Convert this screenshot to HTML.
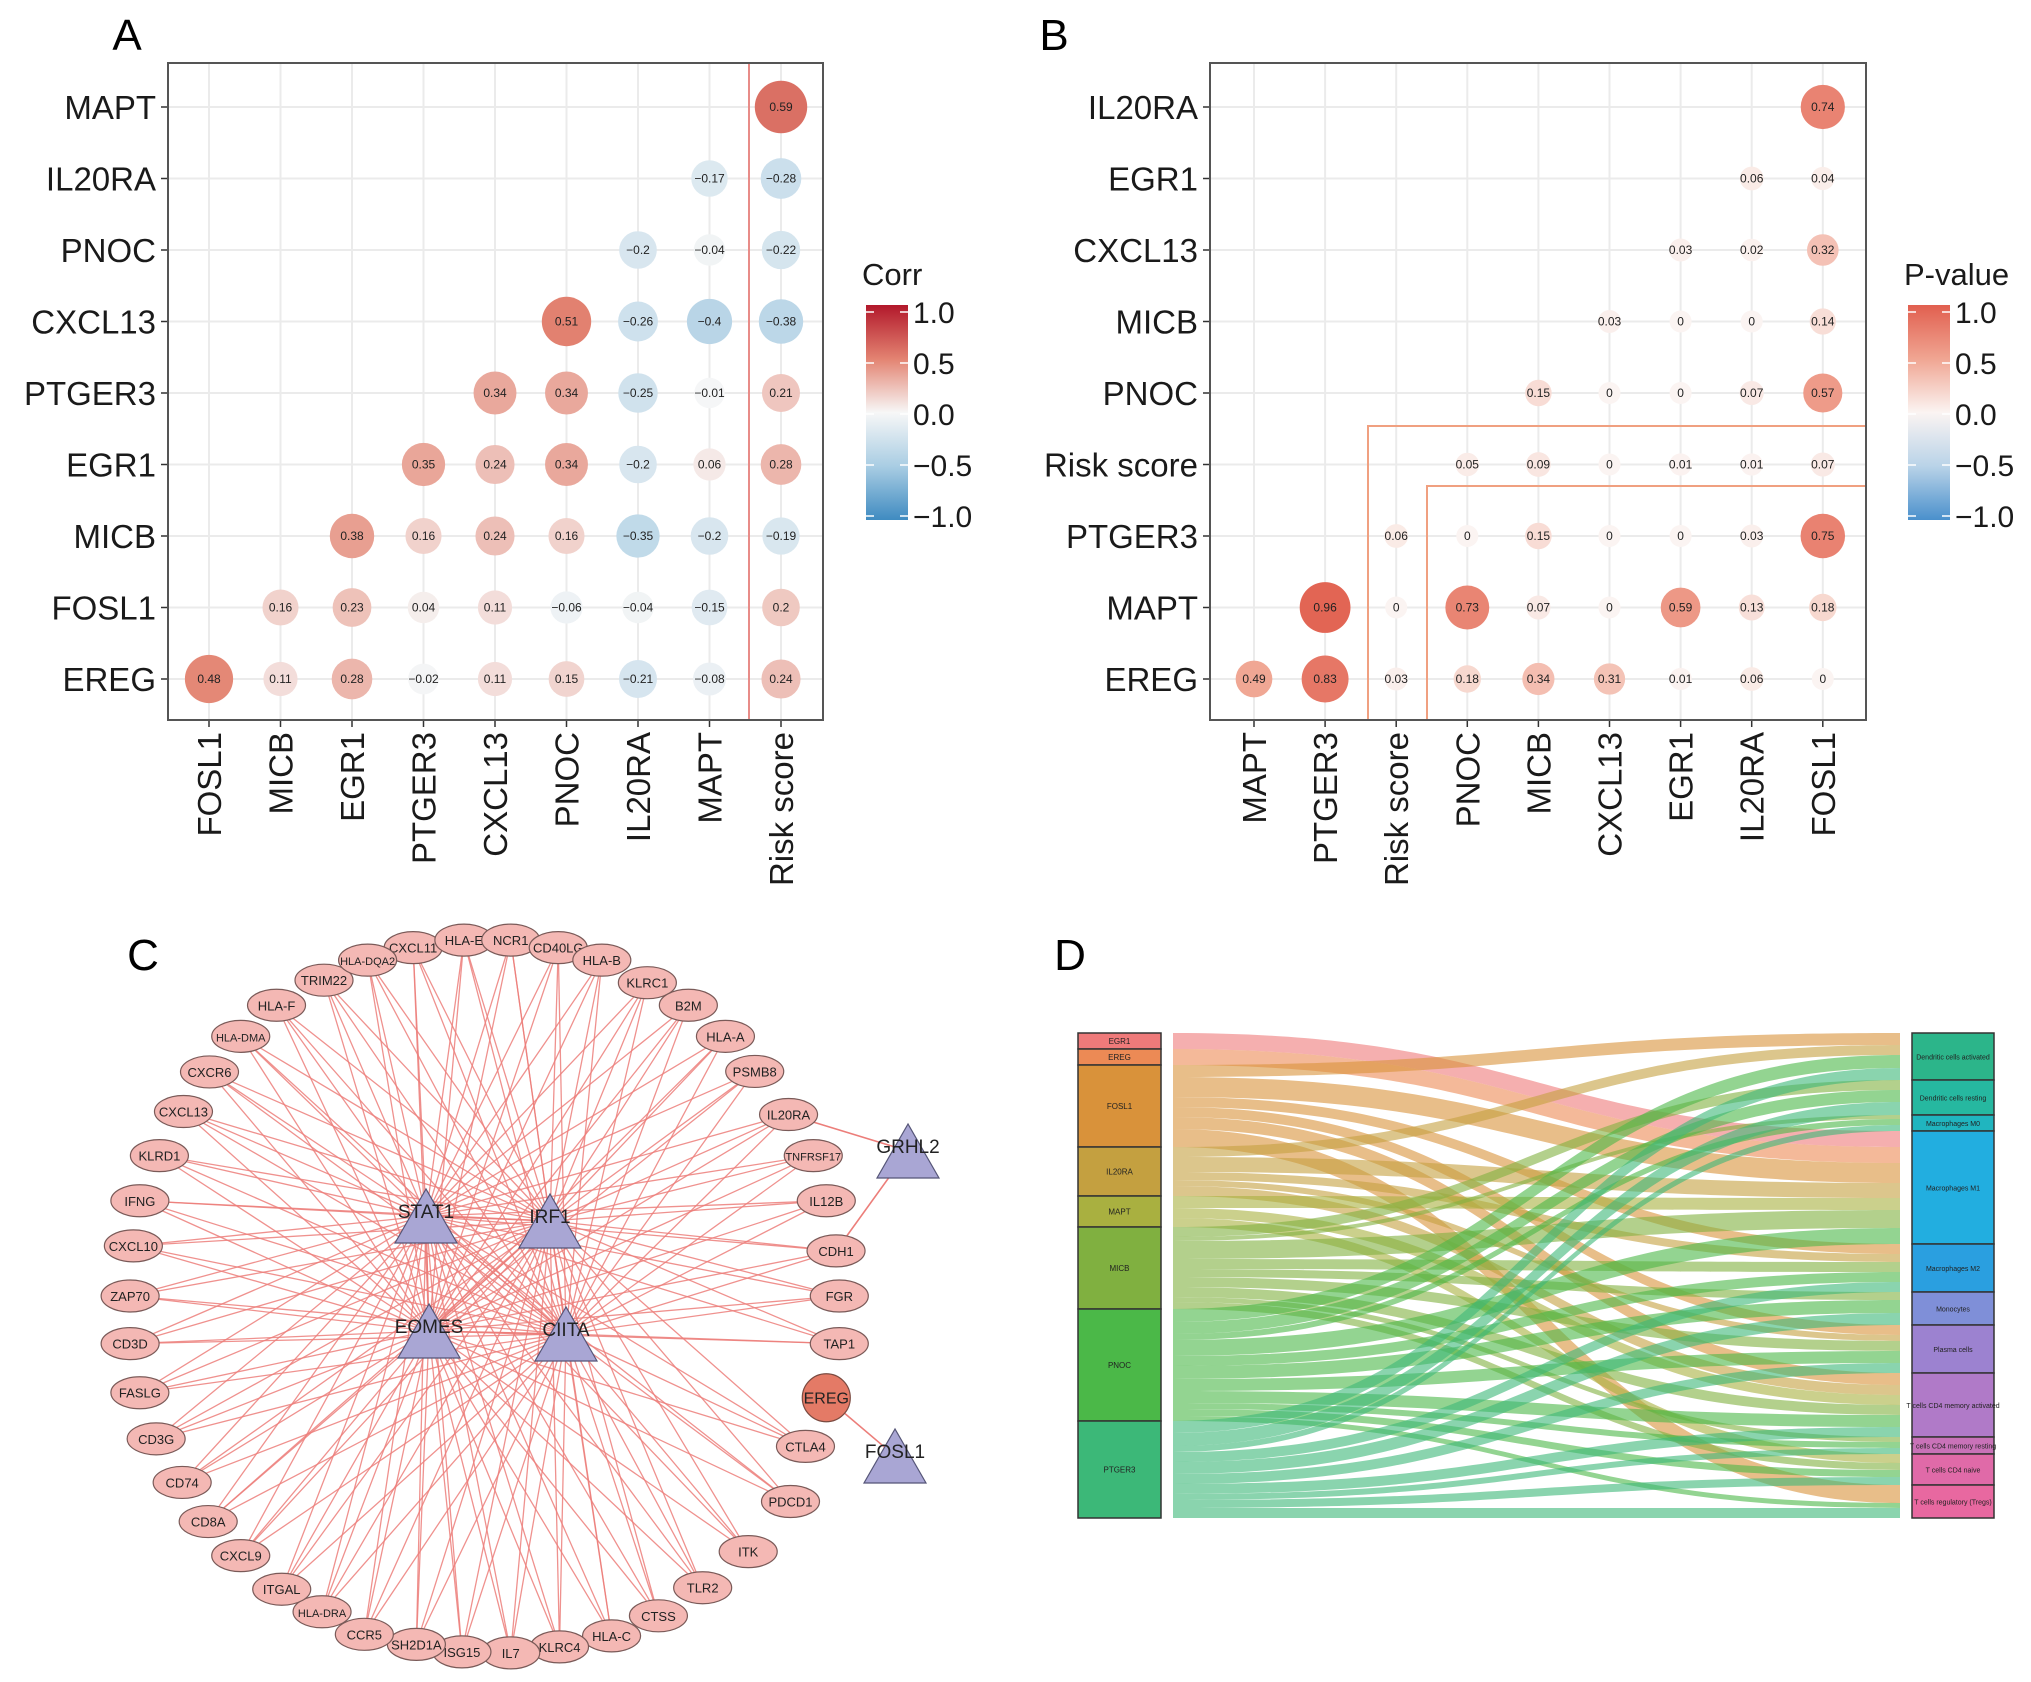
<!DOCTYPE html>
<html><head><meta charset="utf-8"><style>
html,body{margin:0;padding:0;background:#fff;}
svg{display:block;font-family:"Liberation Sans",Arial,sans-serif;}
</style></head><body>
<svg id="fig" width="2031" height="1682" viewBox="0 0 2031 1682" xmlns="http://www.w3.org/2000/svg">
<defs>
<linearGradient id="gA" x1="0" y1="0" x2="0" y2="1">
<stop offset="0" stop-color="#b2182b"/><stop offset="0.25" stop-color="#e38371"/><stop offset="0.5" stop-color="#f7f7f7"/><stop offset="0.75" stop-color="#a9cde3"/><stop offset="1" stop-color="#3f8bc1"/></linearGradient>
<linearGradient id="gB" x1="0" y1="0" x2="0" y2="1">
<stop offset="0" stop-color="#e15f4f"/><stop offset="0.25" stop-color="#f0a592"/><stop offset="0.5" stop-color="#fbf4f2"/><stop offset="0.75" stop-color="#b9d3e8"/><stop offset="1" stop-color="#4a90cc"/></linearGradient>
</defs>
<text x="127" y="50" font-size="44" text-anchor="middle">A</text>
<text x="1054" y="50" font-size="44" text-anchor="middle">B</text>
<text x="143" y="970" font-size="44" text-anchor="middle">C</text>
<text x="1070" y="970" font-size="44" text-anchor="middle">D</text>
<g id="panelA"></g>
<g id="panelB"></g>
<g id="panelC"></g>
<g id="panelD"></g>
</svg>
<script>
const NS="http://www.w3.org/2000/svg";
function mk(tag,attrs,parent){const e=document.createElementNS(NS,tag);for(const k in attrs)e.setAttribute(k,attrs[k]);if(parent)parent.appendChild(e);return e;}

// ---------- Panel A data ----------
const aRows=["MAPT","IL20RA","PNOC","CXCL13","PTGER3","EGR1","MICB","FOSL1","EREG"];
const aCols=["FOSL1","MICB","EGR1","PTGER3","CXCL13","PNOC","IL20RA","MAPT","Risk score"];
const aVals=[
[null,null,null,null,null,null,null,null,0.59],
[null,null,null,null,null,null,null,-0.17,-0.28],
[null,null,null,null,null,null,-0.2,-0.04,-0.22],
[null,null,null,null,null,0.51,-0.26,-0.4,-0.38],
[null,null,null,null,0.34,0.34,-0.25,-0.01,0.21],
[null,null,null,0.35,0.24,0.34,-0.2,0.06,0.28],
[null,null,0.38,0.16,0.24,0.16,-0.35,-0.2,-0.19],
[null,0.16,0.23,0.04,0.11,-0.06,-0.04,-0.15,0.2],
[0.48,0.11,0.28,-0.02,0.11,0.15,-0.21,-0.08,0.24]];
const aLegendTicks=["1.0","0.5","0.0","\u22120.5","\u22121.0"];
// ---------- Panel B data ----------
const bRows=["IL20RA","EGR1","CXCL13","MICB","PNOC","Risk score","PTGER3","MAPT","EREG"];
const bCols=["MAPT","PTGER3","Risk score","PNOC","MICB","CXCL13","EGR1","IL20RA","FOSL1"];
const bVals=[
[null,null,null,null,null,null,null,null,0.74],
[null,null,null,null,null,null,null,0.06,0.04],
[null,null,null,null,null,null,0.03,0.02,0.32],
[null,null,null,null,null,0.03,0,0,0.14],
[null,null,null,null,0.15,0,0,0.07,0.57],
[null,null,null,0.05,0.09,0,0.01,0.01,0.07],
[null,null,0.06,0,0.15,0,0,0.03,0.75],
[null,0.96,0,0.73,0.07,0,0.59,0.13,0.18],
[0.49,0.83,0.03,0.18,0.34,0.31,0.01,0.06,0]];
const bLegendTicks=["1.0","0.5","0.0","\u22120.5","\u22121.0"];

function hex(c){return [parseInt(c.slice(1,3),16),parseInt(c.slice(3,5),16),parseInt(c.slice(5,7),16)];}
function ramp(stops,v){
  for(let i=0;i<stops.length-1;i++){const [v0,c0]=stops[i],[v1,c1]=stops[i+1];
    if(v<=v1||i==stops.length-2){const t=Math.max(0,Math.min(1,(v-v0)/(v1-v0)));const a=hex(c0),b=hex(c1);
      return "rgb("+a.map((x,j)=>Math.round(x+(b[j]-x)*t)).join(",")+")";}}
}
const stopsA=[[-1,"#3f8bc1"],[-0.5,"#a9cde3"],[0,"#f7f7f7"],[0.5,"#e38371"],[1,"#b2182b"]];
const stopsB=[[-1,"#4a90cc"],[-0.5,"#b9d3e8"],[0,"#fbf4f2"],[0.5,"#f0a592"],[1,"#e15f4f"]];

function fmt(v){return (v<0?"\u2212":"")+String(Math.abs(v));}

function matrix(g,rows,cols,vals,o){
  const L=o.left,R=o.right,T=63,B=720;
  const xs=c=>o.x0+c*o.dx, ys=r=>107+r*71.5;
  mk("rect",{x:L,y:T,width:R-L,height:B-T,fill:"#fff"},g);
  rows.forEach((n,r)=>{const l=mk("line",{x1:L,x2:R,y1:ys(r),y2:ys(r),stroke:"#ebebeb","stroke-width":2},g);
    });
  cols.forEach((n,c)=>{const l=mk("line",{x1:xs(c),x2:xs(c),y1:T,y2:B,stroke:"#ebebeb","stroke-width":2},g);
    });
  if(o.extra)o.extra(g);
  rows.forEach((n,r)=>{
    mk("line",{x1:L-7,x2:L,y1:ys(r),y2:ys(r),stroke:"#333","stroke-width":1.5},g);
    const t=mk("text",{x:L-12,y:ys(r)+12,"font-size":33,"text-anchor":"end",fill:"#1a1a1a"},g);t.textContent=n;
    });
  cols.forEach((n,c)=>{
    mk("line",{x1:xs(c),x2:xs(c),y1:B,y2:B+7,stroke:"#333","stroke-width":1.5},g);
    const t=mk("text",{x:0,y:0,"font-size":33,"text-anchor":"end",fill:"#1a1a1a",transform:`translate(${xs(c)+12},${B+12}) rotate(-90)`},g);t.textContent=n;
    });
  vals.forEach((row,r)=>row.forEach((v,c)=>{if(v===null)return;
    const circ=mk("circle",{cx:xs(c),cy:ys(r),r:o.rad(v),fill:ramp(o.stops,v)},g);
    
    const t=mk("text",{x:xs(c),y:ys(r)+4,"font-size":12,"text-anchor":"middle",fill:"#222"},g);t.textContent=fmt(v);
    }));
  mk("rect",{x:L,y:T,width:R-L,height:B-T,fill:"none",stroke:"#555","stroke-width":2},g);
  const lg=mk("g",{},g);
  const t0=mk("text",{x:o.lx-4,y:285,"font-size":31,fill:"#1a1a1a"},lg);t0.textContent=o.title;
  mk("rect",{x:o.lx,y:305,width:42,height:215,fill:o.grad},lg);
  o.ticks.forEach((s,i)=>{const y=312+i*51;
    mk("line",{x1:o.lx,x2:o.lx+8,y1:y,y2:y,stroke:"#fff","stroke-width":1.5},lg);
    mk("line",{x1:o.lx+34,x2:o.lx+42,y1:y,y2:y,stroke:"#fff","stroke-width":1.5},lg);
    const t=mk("text",{x:o.lx+47,y:y+11,"font-size":30,fill:"#1a1a1a"},lg);t.textContent=s;
    });
}
matrix(document.getElementById("panelA"),aRows,aCols,aVals,{left:168,right:823,x0:209,dx:71.5,stops:stopsA,
  rad:v=>15+19*Math.abs(v),lx:866,title:"Corr",grad:"url(#gA)",ticks:aLegendTicks,
  extra:g=>{const l=mk("line",{x1:749,x2:749,y1:63,y2:720,stroke:"#e88c88","stroke-width":2},g);}});
matrix(document.getElementById("panelB"),bRows,bCols,bVals,{left:1210,right:1866,x0:1254,dx:71.1,stops:stopsB,
  rad:v=>11+15*Math.abs(v),lx:1908,title:"P-value",grad:"url(#gB)",ticks:bLegendTicks,
  extra:g=>{const p1=mk("polyline",{points:"1368,720 1368,426 1866,426",fill:"none",stroke:"#f0a080","stroke-width":2},g);
    
    const p2=mk("polyline",{points:"1427,720 1427,486 1866,486",fill:"none",stroke:"#f0a080","stroke-width":2},g);
    }});

// ---------- Panel C network ----------
const ringNodes=[["CXCL11",635,95],["HLA-E",713,80],["NCR1",785,80],["CD40LG",858,95],["HLA-B",925,120],["KLRC1",995,165],["B2M",1058,210],["HLA-A",1115,272],["PSMB8",1160,342],["IL20RA",1212,428],["TNFRSF17",1250,510],["IL12B",1270,600],["CDH1",1285,700],["FGR",1290,790],["TAP1",1290,885],["CTLA4",1238,1090],["PDCD1",1215,1200],["ITK",1150,1300],["TLR2",1080,1372],["CTSS",1012,1428],["HLA-C",940,1468],["KLRC4",860,1490],["IL7",785,1502],["ISG15",710,1500],["SH2D1A",640,1485],["CCR5",560,1465],["HLA-DRA",495,1420],["ITGAL",433,1375],["CXCL9",370,1308],["CD8A",320,1240],["CD74",280,1162],["CD3G",240,1075],["FASLG",215,983],["CD3D",200,885],["ZAP70",200,790],["CXCL10",205,690],["IFNG",215,600],["KLRD1",245,510],["CXCL13",282,422],["CXCR6",322,343],["HLA-DMA",370,272],["HLA-F",425,210],["TRIM22",498,160],["HLA-DQA2",565,120]];
const tfNodes=[["STAT1",426,1216],["IRF1",550,1221],["EOMES",429,1331],["CIITA",566,1334]];
const gC=document.getElementById("panelC");
const P=n=>[n[1]/1.537,900+n[2]/1.995];
const eg=mk("g",{},gC);
ringNodes.forEach((n,i)=>{const [x,y]=P(n);
  tfNodes.forEach((t,j)=>{
    mk("line",{x1:x,y1:y,x2:t[1],y2:t[2],stroke:"#ec7e7a","stroke-width":1.3,"stroke-opacity":0.85},eg);});});
[[0,1],[0,2],[0,3],[1,2],[1,3],[2,3]].forEach(([a,b])=>mk("line",{x1:tfNodes[a][1],y1:tfNodes[a][2],x2:tfNodes[b][1],y2:tfNodes[b][2],stroke:"#ec7e7a","stroke-width":1.4},eg));
const grhl2=[908,1151],fosl1=[895,1456],ereg=[1270/1.537,900+993/1.995];
[[P(ringNodes[9]),grhl2],[P(ringNodes[12]),grhl2],[ereg,fosl1]].forEach(([a,b])=>mk("line",{x1:a[0],y1:a[1],x2:b[0],y2:b[1],stroke:"#ec7e7a","stroke-width":1.6},eg));
ringNodes.forEach(n=>{const [x,y]=P(n);
  const e=mk("ellipse",{cx:x,cy:y,rx:29,ry:16,fill:"#f4b8b4",stroke:"#7a5a58","stroke-width":1.2},gC);
  
  const t=mk("text",{x:x,y:y+5,"font-size":n[0].length>6?11:13,"text-anchor":"middle",fill:"#222"},gC);t.textContent=n[0];
  });
const ec=mk("circle",{cx:ereg[0],cy:ereg[1],r:24,fill:"#e47a66",stroke:"#7a4a40","stroke-width":1.2},gC);

const et=mk("text",{x:ereg[0],y:ereg[1]+6,"font-size":16,"text-anchor":"middle",fill:"#222"},gC);et.textContent="EREG";
function tri(name,cx,cy){const w=31,h=27;
  const p=mk("polygon",{points:`${cx},${cy-h} ${cx-w},${cy+h} ${cx+w},${cy+h}`,fill:"#a9a6d4",stroke:"#555577","stroke-width":1.2},gC);
  
  const t=mk("text",{x:cx,y:cy+2,"font-size":19,"text-anchor":"middle",fill:"#222"},gC);t.textContent=name;
  }
tfNodes.forEach(t=>tri(t[0],t[1],t[2]));
tri("GRHL2",grhl2[0],grhl2[1]);tri("FOSL1",fosl1[0],fosl1[1]);

// ---------- Panel D sankey ----------
const genes=["EGR1","EREG","FOSL1","IL20RA","MAPT","MICB","PNOC","PTGER3"];
const geneColors=["#ef7a7a","#ec8a55","#d9923a","#c4a040","#a9b040","#80b040","#4bb848","#3cb878"];
const cells=["Dendritic cells activated","Dendritic cells resting","Macrophages M0","Macrophages M1","Macrophages M2","Monocytes","Plasma cells","T cells CD4 memory activated","T cells CD4 memory resting","T cells CD4 naive","T cells regulatory (Tregs)"];
const cellColors=["#2cb58a","#26b8a0","#20b5bf","#22aee0","#2a9fe0","#7f8fd8","#9c82d0","#b07ac8","#c972b8","#e06aa8","#e868a0"];
const flows=[
[0,0,0,16,0,0,0,0,0,0,0],
[0,0,0,16,0,0,0,0,0,0,0],
[12,0,0,20,10,0,10,12,0,0,18],
[10,0,0,15,8,0,6,10,0,0,0],
[0,0,0,12,0,0,0,10,0,9,0],
[0,10,4,18,10,8,10,10,5,7,0],
[13,12,6,16,10,13,12,12,6,7,5],
[12,13,6,0,10,12,10,10,6,8,10]];
const gD=document.getElementById("panelD");
const DT=1033,DB=1518;
const total=flows.reduce((s,r)=>s+r.reduce((a,b)=>a+b,0),0);
const k=(DB-DT)/total;
const gSum=flows.map(r=>r.reduce((a,b)=>a+b,0));
const cSum=cells.map((c,j)=>flows.reduce((s,r)=>s+r[j],0));
const gTop=[],cTop=[];let acc=DT;gSum.forEach(v=>{gTop.push(acc);acc+=v*k;});
acc=DT;cSum.forEach(v=>{cTop.push(acc);acc+=v*k;});
const gOff=gTop.slice(),cOff=cTop.slice();
const fx0=1173,fx1=1900,mx=(fx0+fx1)/2;
const fg=mk("g",{},gD);
flows.forEach((row,i)=>row.forEach((v,j)=>{if(!v)return;
  const h=v*k,y0=gOff[i],y1=cOff[j];gOff[i]+=h;cOff[j]+=h;
  const d=`M${fx0},${y0} C${mx},${y0} ${mx},${y1} ${fx1},${y1} L${fx1},${y1+h} C${mx},${y1+h} ${mx},${y0+h} ${fx0},${y0+h} Z`;
  const p=mk("path",{d:d,fill:geneColors[i],"fill-opacity":0.6},fg);
  }));
function bars(names,colors,sums,tops,x,w,fs){names.forEach((n,i)=>{const h=sums[i]*k;
  const r=mk("rect",{x:x,y:tops[i],width:w,height:h,fill:colors[i],stroke:"#333","stroke-width":1.5},gD);
  
  const t=mk("text",{x:x+w/2,y:tops[i]+h/2+3,"font-size":fs,"text-anchor":"middle",fill:"#222"},gD);t.textContent=n;
  });}
bars(genes,geneColors,gSum,gTop,1078,83,8);
bars(cells,cellColors,cSum,cTop,1912,82,7);
</script>
</body></html>
